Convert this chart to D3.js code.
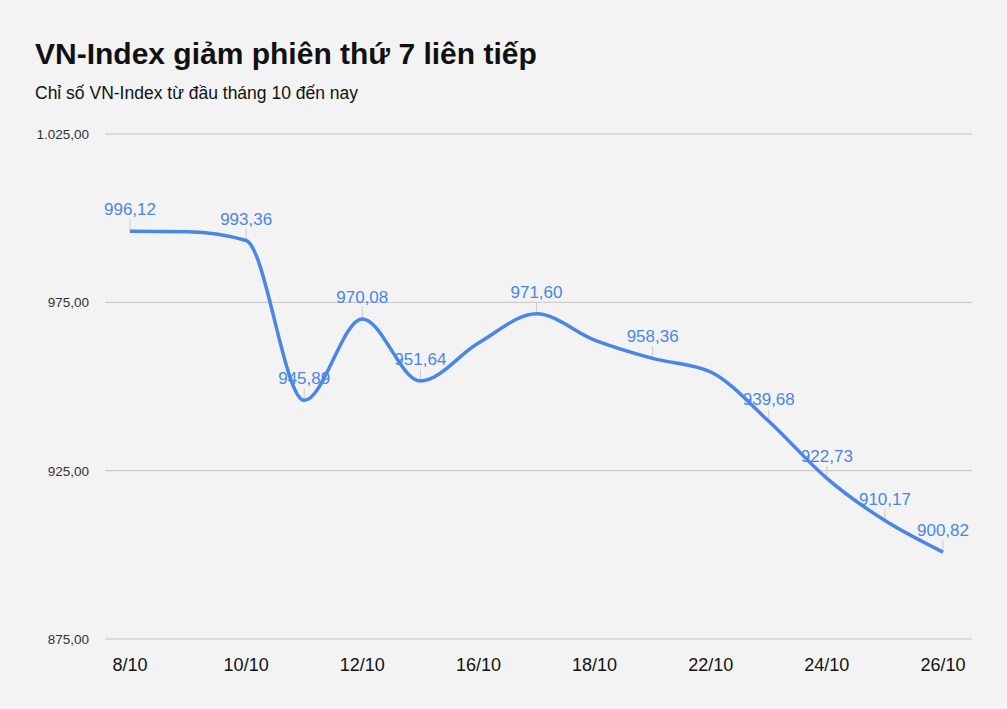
<!DOCTYPE html>
<html><head><meta charset="utf-8">
<script src="https://cdn.jsdelivr.net/npm/d3@7"></script>
<style>body{margin:0;background:#f3f3f3;}svg{font-family:Arial,"Liberation Sans",sans-serif;}</style>
</head><body><svg id="c" width="1007" height="709"></svg>
<script>
const dates = ["8/10","9/10","10/10","11/10","12/10","15/10","16/10","17/10","18/10","19/10","22/10","23/10","24/10","25/10","26/10"];
const values = [996.12,996.0,993.36,945.89,970.08,951.64,962.9,971.60,963.8,958.36,954.3,939.68,922.73,910.17,900.82];
const labeled = [true,false,true,true,true,true,false,true,false,true,false,true,true,true,true];
const xTickDates = ["8/10","10/10","12/10","16/10","18/10","22/10","24/10","26/10"];
const yTicks = [875,925,975,1025];

const svg = d3.select("#c");
svg.append("rect").attr("width",1007).attr("height",709).attr("fill","#f3f3f3");
const x = d3.scalePoint().domain(dates).range([130,943]);
const y = d3.scaleLinear().domain([875,1025]).range([639,134]);
const fmt = v => v.toFixed(2).replace(".",",");
const fmtY = v => d3.format(",.2f")(v).replace(/,/g,"X").replace(".",",").replace(/X/g,".");

svg.append("text").attr("x",35).attr("y",64).attr("font-size",30).attr("font-weight","bold").attr("fill","#111").text("VN-Index giảm phiên thứ 7 liên tiếp");
svg.append("text").attr("x",35).attr("y",99).attr("font-size",17.5).attr("fill","#111").text("Chỉ số VN-Index từ đầu tháng 10 đến nay");

const g = svg.append("g");
yTicks.forEach(t=>{
  g.append("line").attr("x1",105).attr("x2",972).attr("y1",y(t)).attr("y2",y(t)).attr("stroke","#c4c4c4").attr("stroke-width",1);
  g.append("text").attr("x",89).attr("y",y(t)+5).attr("text-anchor","end").attr("font-size",13.5).attr("fill","#333").text(fmtY(t));
});
xTickDates.forEach(d=>{
  g.append("text").attr("x",x(d)).attr("y",671).attr("text-anchor","middle").attr("font-size",18).attr("fill","#111").text(d);
});
const pts = dates.map((d,i)=>({d,v:values[i],l:labeled[i]}));
pts.filter(p=>p.l).forEach(p=>{
  g.append("line").attr("x1",x(p.d)).attr("x2",x(p.d)).attr("y1",y(p.v)-12).attr("y2",y(p.v)).attr("stroke","#ccc").attr("stroke-width",1);
});
g.append("path").datum(pts).attr("fill","none").attr("stroke","#4a86e8").attr("stroke-width",3.5)
 .attr("d",d3.line().x(p=>x(p.d)).y(p=>y(p.v)).curve(d3.curveMonotoneX));
pts.filter(p=>p.l).forEach(p=>{
  g.append("text").attr("x",x(p.d)).attr("y",y(p.v)-16).attr("text-anchor","middle").attr("font-size",17).attr("fill","#4a86e8").text(fmt(p.v));
});
</script></body></html>
